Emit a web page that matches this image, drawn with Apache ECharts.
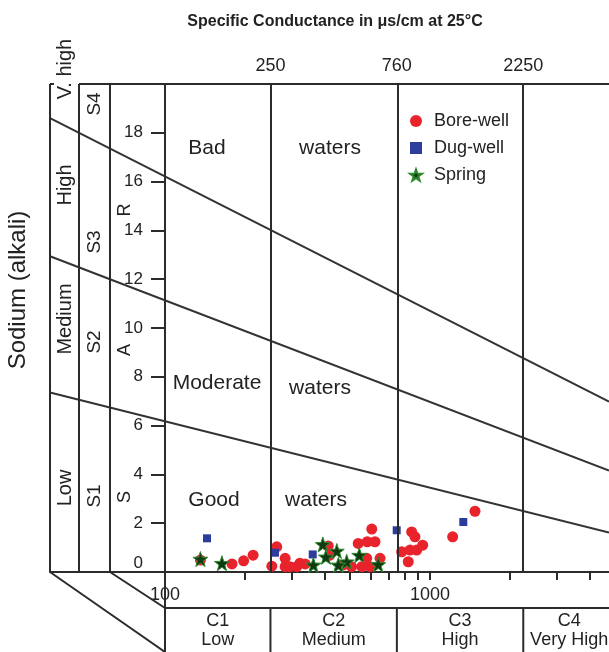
<!DOCTYPE html>
<html>
<head>
<meta charset="utf-8">
<script src="https://cdn.jsdelivr.net/npm/echarts@6/dist/echarts.min.js"></script>
<style>
html,body{margin:0;padding:0;background:#fff;}
#main{width:609px;height:652px;}
</style>
</head>
<body>
<div id="main"></div>
<script>
// samples: [specific conductance (uS/cm), SAR]
var boreWell = [[136,0.49],[179,0.33],[198,0.46],[215,0.69],[264,1.03],[253,0.24],[284,0.56],[284,0.22],
    [296,0.22],[314,0.22],[323,0.36],[338,0.33],[413,1.07],[419,0.69],[471,0.29],[506,0.22],[536,1.17],
    [580,1.24],[603,1.76],[620,1.24],[577,0.56],[553,0.22],[594,0.22],[648,0.56],[853,1.64],[878,1.44],
    [782,0.83],[841,0.9],[891,0.9],[939,1.1],[828,0.42],[1218,1.44],[1479,2.49]];
var dugWell = [[144,1.38],[260,0.79],[361,0.72],[749,1.71],[1336,2.05]];
var spring = [[136,0.53],[164,0.36],[363,0.29],[394,1.13],[405,0.62],[445,0.86],[485,0.42],[451,0.29],
    [541,0.69],[638,0.31]];

// conductivity axis
var ecRange = [36.8, 4740];
var ecBounds = [250, 750, 2250];
var topLabels = ['250', '760', '2250'];
var bottomLabels = [100, 1000];
var ecTicks = [200,300,400,500,600,700,800,900,1000,2000,3000,4000];
var classNames = ['C1\nLow', 'C2\nMedium', 'C3\nHigh', 'C4\nVery High'];

// sodium hazard boundaries: SAR at the left and right end of the ec range
var lineS34 = [18.6, 6.98];
var lineS23 = [12.94, 4.16];
var lineS12 = [7.36, 1.62];

var FONT = '"Liberation Sans", Arial, Helvetica, sans-serif';
var INK = '#2b2b2b';

function lg(v){ return Math.log10(v); }
function toLog(arr){ return arr.map(function(p){ return [lg(p[0]), p[1]]; }); }
function boundary(sar){
    return {
        type:'line', data:[[lg(ecRange[0]), sar[0]], [lg(ecRange[1]), sar[1]]],
        symbol:'none', silent:true, z:1,
        lineStyle:{color:'#333', width:2}
    };
}

var chart = echarts.init(document.getElementById('main'));

var sHazard = [boundary(lineS34), boundary(lineS23), boundary(lineS12)];
sHazard[0].markLine = {
    silent:true, symbol:'none', label:{show:false},
    lineStyle:{color:INK, width:2, type:'solid'},
    data: ecBounds.map(function(v){ return {xAxis: lg(v)}; })
};

var option = {
    animation:false,
    title:{
        text:'Specific Conductance in \u03bcs/cm at 25\u00b0C',
        left:330, top:9, textAlign:'center',
        textStyle:{fontSize:16, fontWeight:'bold', color:'#222', fontFamily:FONT}
    },
    legend:{
        data:['Bore-well','Dug-well','Spring'],
        orient:'vertical', left:404, top:106,
        itemWidth:12, itemHeight:12, itemGap:7,
        textStyle:{fontSize:18, color:'#222', fontFamily:FONT, lineHeight:20, padding:[0,0,0,7]}
    },
    grid:{left:50, right:0, top:84, bottom:80},
    xAxis:[{
        type:'value', position:'bottom',
        min:lg(ecRange[0]), max:lg(ecRange[1]),
        splitLine:{show:false},
        axisLine:{lineStyle:{color:INK, width:2}},
        axisTick:{customValues:ecTicks.map(lg), length:8, lineStyle:{color:INK, width:2}},
        axisLabel:{
            customValues:bottomLabels.map(lg), margin:14,
            fontSize:18, color:'#222', fontFamily:FONT,
            formatter:function(v){ return String(Math.round(Math.pow(10, v))); }
        }
    },{
        type:'value', position:'top',
        min:lg(ecRange[0]), max:lg(ecRange[1]),
        splitLine:{show:false},
        axisLine:{show:false},
        axisTick:{show:false},
        axisLabel:{
            customValues:ecBounds.map(lg), margin:9,
            fontSize:18, color:'#222', fontFamily:FONT,
            formatter:function(v){
                for (var i = 0; i < ecBounds.length; i++) {
                    if (Math.abs(lg(ecBounds[i]) - v) < 1e-6) return topLabels[i];
                }
                return '';
            }
        }
    }],
    yAxis:{
        type:'value', min:0, max:20, interval:2, offset:-115,
        splitLine:{show:false},
        axisLine:{show:true, lineStyle:{color:INK, width:2}},
        axisTick:{length:14, lineStyle:{color:INK, width:2}},
        axisLabel:{
            showMaxLabel:false, margin:22,
            fontSize:17, color:'#222', fontFamily:FONT,
            formatter:function(v){ return v === 0 ? '{z|0}' : String(v); },
            rich:{z:{fontSize:17, fontFamily:FONT, color:'#222', padding:[0,0,18,0]}}
        }
    },
    series: sHazard.concat([{
        name:'Bore-well', type:'scatter', data:toLog(boreWell),
        symbol:'circle', symbolSize:11, z:3,
        itemStyle:{color:'#e8232b', opacity:1}
    },{
        name:'Dug-well', type:'scatter', data:toLog(dugWell),
        symbol:'rect', symbolSize:8, z:4,
        itemStyle:{color:'#2d3d9c', opacity:1}
    },{
        name:'Spring', type:'scatter', data:toLog(spring),
        symbol:'path://M50,0 L61.8,35.1 L98.9,35.5 L69.1,57.6 L80.3,93 L50,71.5 L19.7,93 L30.9,57.6 L1.1,35.5 L38.2,35.1 Z',
        symbolSize:15, z:5,
        itemStyle:{color:'#103a12', borderColor:'#2f8a30', borderWidth:1, opacity:1}
    }])
};
chart.setOption(option);

// frame, class boxes and labels drawn around the axes
function px(ec){ return chart.convertToPixel({xAxisIndex:0}, lg(ec)); }
function py(sar){ return chart.convertToPixel({yAxisIndex:0}, sar); }
function seg(x1,y1,x2,y2){
    return {type:'line', silent:true, z:10, shape:{x1:x1,y1:y1,x2:x2,y2:y2},
        style:{stroke:INK, lineWidth:2}};
}
function txt(x, y, s, size, rot, lh){
    return {type:'text', silent:true, z:10, x:x, y:y, rotation:rot || 0,
        style:{text:s, fill:'#222', font:size + 'px ' + FONT,
            align:'center', verticalAlign:'middle', textAlign:'center', textVerticalAlign:'middle',
            lineHeight:lh || size}};
}

var x0 = px(ecRange[0]), xR = px(ecRange[1]), x100 = px(100);
var yTop = py(20), yBot = py(0);
var col1 = 79, col2 = 110, boxTop = 608, boxBot = 652;
var g = [];
g.push(seg(col1, yTop, xR, yTop));
g.push(seg(x0, yTop, x0, yBot), seg(x0, yTop, x0 + 4, yTop));
g.push(seg(col1, yTop, col1, yBot), seg(col2, yTop, col2, yBot));
g.push(seg(x100, yBot, x100, boxBot));
g.push(seg(x100, boxTop, xR, boxTop));
ecBounds.forEach(function(v){ g.push(seg(px(v), boxTop, px(v), boxBot)); });
g.push(seg(x0, yBot, x100, boxBot), seg(col2, yBot, x100, boxTop));

var edges = [x100].concat(ecBounds.map(px)).concat([xR + 6]);
classNames.forEach(function(s, i){
    g.push(txt((edges[i] + edges[i + 1]) / 2, 631, s, 18, 0, 19));
});

var R = Math.PI / 2;
g.push(txt(18, 290, 'Sodium (alkali)', 24, R));
g.push(txt(65, 69, 'V. high', 20, R), txt(65, 185, 'High', 20, R),
       txt(65, 319, 'Medium', 20, R), txt(65, 488, 'Low', 20, R));
g.push(txt(95, 104, 'S4', 19, R), txt(95, 242, 'S3', 19, R),
       txt(95, 342, 'S2', 19, R), txt(95, 496, 'S1', 19, R));
g.push(txt(125, 210, 'R', 18, R), txt(125, 350, 'A', 18, R), txt(125, 497, 'S', 18, R));

g.push(txt(207, 148, 'Bad', 21), txt(330, 148, 'waters', 21));
g.push(txt(217, 383, 'Moderate', 21), txt(320, 388, 'waters', 21));
g.push(txt(214, 500, 'Good', 21), txt(316, 500, 'waters', 21));

chart.setOption({graphic:g});
</script>
</body>
</html>
